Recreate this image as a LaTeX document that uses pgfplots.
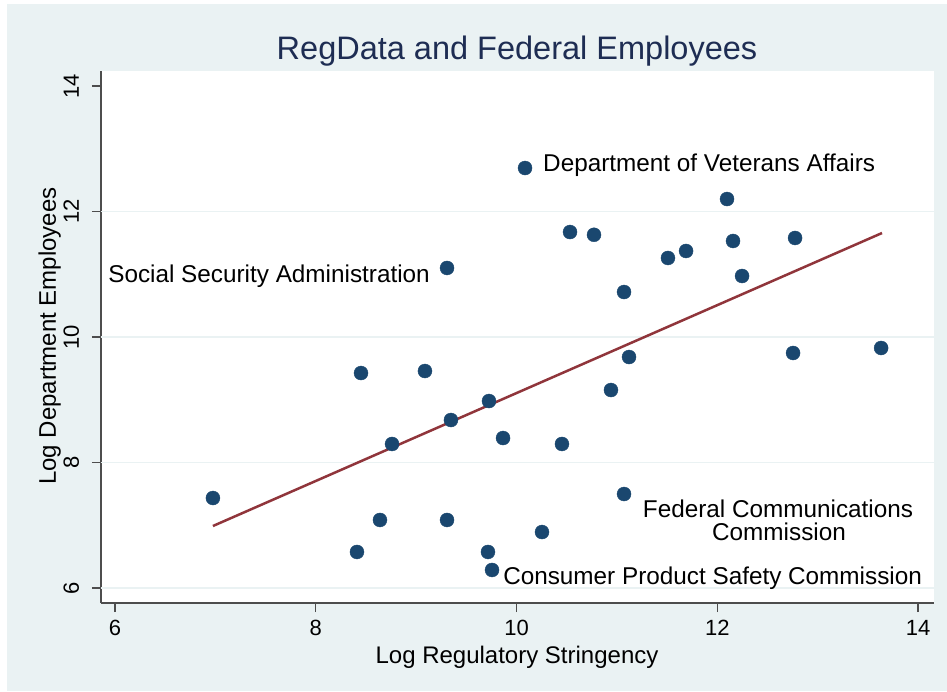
\documentclass[border=0pt]{standalone}
\usepackage{pgfplots}
\pgfplotsset{compat=1.18}
\usepackage{fontspec}
\setmainfont{Liberation Sans}
\definecolor{bgblue}{HTML}{EAF2F3}
\definecolor{stnavy}{HTML}{1A476F}
\definecolor{stmaroon}{HTML}{90353B}
\definecolor{titlecol}{HTML}{1E2D53}
\definecolor{axcol}{HTML}{4D4D4D}
\begin{document}
\begin{tikzpicture}
\fill[white] (-101pt,-88pt) rectangle (846pt,603pt);
\fill[bgblue] (-94pt,-88pt) rectangle (846pt,599pt);
\useasboundingbox (-101pt,-88pt) rectangle (846pt,603pt);
\begin{axis}[
  scale only axis,
  width=833pt, height=532pt,
  xmin=5.861, xmax=14.159, ymin=5.761, ymax=14.239,
  axis background/.style={fill=white},
  axis x line*=bottom, axis y line*=left,
  axis line style={axcol, line width=1.5pt},
  xtick={6,8,10,12,14}, ytick={6,8,10,12,14},
  xticklabels={}, yticklabels={},
  extra y ticks={6,8,10,12},
  extra y tick labels={},
  extra y tick style={major tick length=0pt, grid=major},
  grid style={bgblue, line width=1.5pt},
  tick align=outside,
  major tick length=9pt,
  tick style={axcol, line width=1.5pt},
  clip=false,
]
\addplot[only marks, mark=*, mark size=7pt, stnavy, mark options={fill=stnavy, draw=stnavy}] coordinates {
(6.976,7.434) (8.411,6.574) (8.451,9.426) (8.640,7.084) (8.760,8.295)
(9.088,9.458) (9.308,11.100) (9.308,7.084) (9.347,8.677) (9.726,8.980)
(9.716,6.574) (9.756,6.287) (9.866,8.390) (10.085,12.693) (10.254,6.892)
(10.453,8.295) (10.533,11.673) (10.772,11.629) (10.941,9.155) (11.071,10.717)
(11.071,7.498) (11.121,9.681) (11.509,11.259) (11.689,11.371) (12.097,12.199)
(12.157,11.530) (12.247,10.972) (12.755,9.745) (12.775,11.578) (13.632,9.825)
};
\addplot[stmaroon, line width=2.5pt, no marks] coordinates {(6.976,6.988) (13.641,11.657)};
\pgfplotsinvokeforeach{6,8,10,12,14}{
  \node[anchor=base, inner sep=0pt, font=\fontsize{22}{26}\selectfont] at (axis cs:#1,5.251) {#1};
  \node[anchor=base, inner sep=0pt, rotate=90, font=\fontsize{22}{26}\selectfont] at (axis cs:5.641,#1) {#1};
}
\node[anchor=base west, inner sep=0pt, font=\fontsize{24.3}{28}\selectfont] at (axis cs:10.264,12.645) {Department of Veterans Affairs};
\node[anchor=base east, inner sep=0pt, font=\fontsize{24.3}{28}\selectfont] at (axis cs:9.138,10.861) {Social Security Administration};
\node[anchor=base, inner sep=0pt, font=\fontsize{24.3}{28}\selectfont] at (axis cs:12.605,7.131) {Federal Communications};
\node[anchor=base, inner sep=0pt, font=\fontsize{24.3}{28}\selectfont] at (axis cs:12.615,6.765) {Commission};
\node[anchor=base west, inner sep=0pt, font=\fontsize{24.3}{28}\selectfont] at (axis cs:9.866,6.048) {Consumer Product Safety Commission};
\end{axis}
\node[anchor=base, inner sep=0pt, text=titlecol, font=\fontsize{32.5}{38}\selectfont] at (416pt,543pt) {RegData and Federal Employees};
\node[anchor=base, inner sep=0pt, font=\fontsize{24}{28}\selectfont] at (416pt,-60pt) {Log Regulatory Stringency};
\node[anchor=base, inner sep=0pt, rotate=90, font=\fontsize{24}{28}\selectfont] at (-45pt,267pt) {Log Department Employees};
\end{tikzpicture}
\end{document}
